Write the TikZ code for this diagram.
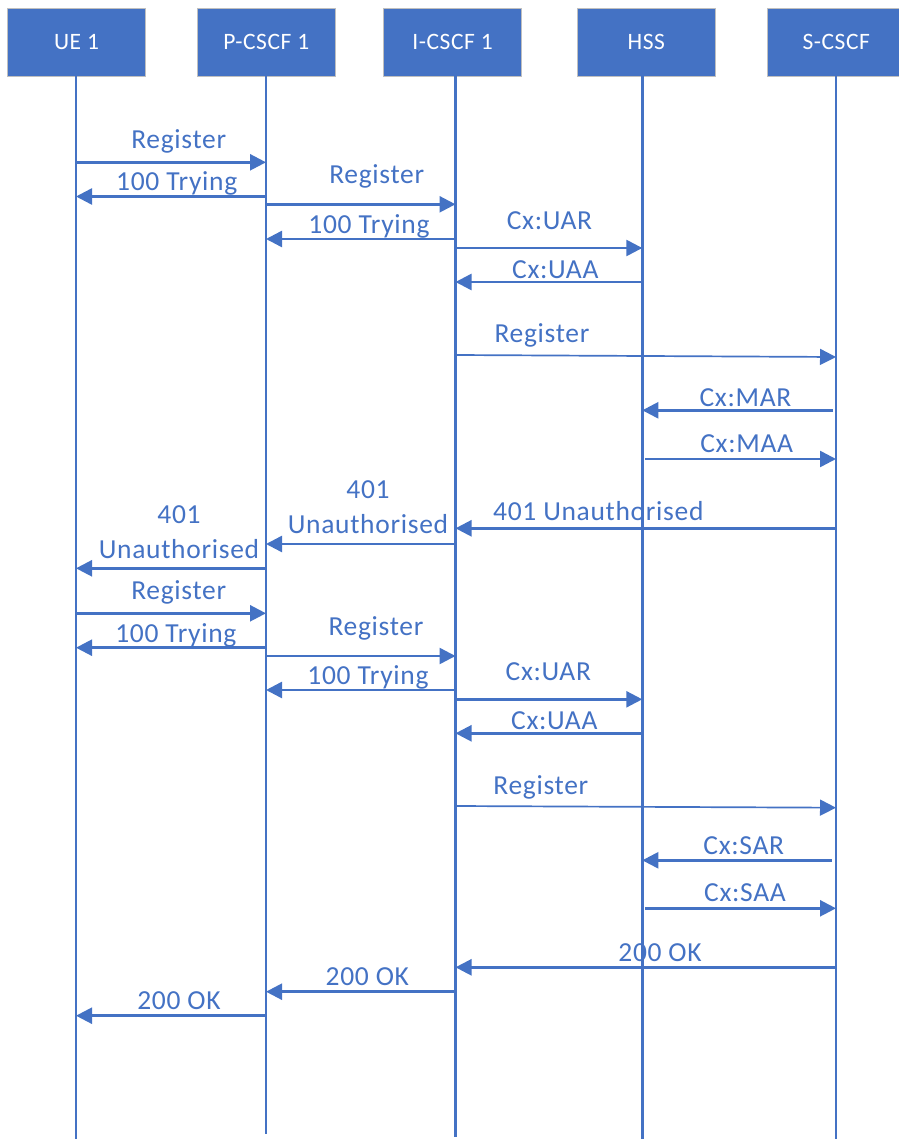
\documentclass[tikz,border=0pt]{standalone}
\usepackage{fontspec}
\setmainfont{Carlito}
\newfontfamily\lblfont[LetterSpace=2.5]{Carlito}
\usetikzlibrary{arrows.meta}
\definecolor{msblue}{HTML}{4472C4}
\definecolor{boxedge}{HTML}{BFBFBF}
\tikzset{
  actor/.style={draw=boxedge, line width=0.9pt, fill=msblue, minimum width=138pt, minimum height=68pt, inner sep=0pt, text=white, font=\lblfont\fontsize{23.5}{28}\selectfont},
  life/.style={draw=msblue, line width=2.9pt},
  msg/.style={draw=msblue, line width=2.5pt, -{Triangle[length=16pt,width=16pt]}},
  thinmsg/.style={draw=msblue, line width=1.7pt, -{Triangle[length=16pt,width=16pt]}},
  lbl/.style={text=msblue, inner sep=0pt, anchor=base, font=\lblfont\fontsize{27.5}{35}\selectfont},
  lbl2/.style={text=msblue, inner sep=0pt, anchor=south, align=center, font=\lblfont\fontsize{27.5}{35}\selectfont}
}
\begin{document}
\begin{tikzpicture}[x=1pt,y=-1pt]
\useasboundingbox (0,0) rectangle (898,1139);
% actors
\node[actor] (ue)  at (76.5,42.3)  {UE 1};
\node[actor] (pc)  at (266.3,42.3) {P-CSCF 1};
\node[actor] (ic)  at (452.6,42.3) {I-CSCF 1};
\node[actor] (hss) at (646.3,42.3) {HSS};
\node[actor] (sc)  at (836.3,42.3) {S-CSCF};
% lifelines
\coordinate (Lue) at (76,76.5);
\coordinate (Lpc) at (266,76.5);
\coordinate (Lic) at (455.5,76.5);
\coordinate (Lhss) at (642.3,76.5);
\coordinate (Lsc) at (836,76.5);
\coordinate (Eue) at (76,1139);
\coordinate (Epc) at (266,1134);
\coordinate (Eic) at (455.5,1137);
\coordinate (Ehss) at (642.3,1139);
\coordinate (Esc) at (836,1139);
\draw[life] (Lue) -- (Eue);
\draw[life] (Lpc) -- (Epc);
\draw[life] (Lic) -- (Eic);
\draw[life] (Lhss) -- (Ehss);
\draw[life] (Lsc) -- (Esc);
% first registration
\draw[msg] (Lue |- 0,162.3) -- (Lpc |- 0,162.3);
\node[lbl] (t1) at (178.7,148.3) {Register};
\draw[msg] (Lpc |- 0,196.5) -- (Lue |- 0,196.5);
\node[lbl] (t2) at (176.7,191) {100 Trying};
\draw[msg] (Lpc |- 0,204.3) -- (Lic |- 0,204.3);
\node[lbl] (t3) at (376.7,183.3) {Register};
\draw[msg] (Lic |- 0,239) -- (Lpc |- 0,239);
\node[lbl] (t4) at (369,233.3) {100 Trying};
\draw[msg] (Lic |- 0,248) -- (Lhss |- 0,248);
\node[lbl] (t5) at (549.5,229.3) {Cx:UAR};
\draw[msg] (Lhss |- 0,282) -- (Lic |- 0,282);
\node[lbl] (t6) at (555.3,278.3) {Cx:UAA};
\draw[thinmsg] (Lic |- 0,355) -- (Lsc |- 0,357);
\node[lbl] (t7) at (542,342.7) {Register};
\draw[msg] (833,410.3) -- (Lhss |- 0,410.3);
\node[lbl] (t8) at (745.5,406) {Cx:MAR};
\draw[msg] (645,459) -- (Lsc |- 0,459);
\node[lbl] (t9) at (746.7,452.3) {Cx:MAA};
\draw[msg] (Lsc |- 0,528.3) -- (Lic |- 0,528.3);
\node[lbl] (t10) at (598.3,520) {401 Unauthorised};
\draw[msg] (Lic |- 0,544) -- (Lpc |- 0,544);
\node[lbl2] (t11) at (368,533.8) {401\\Unauthorised};
\draw[msg] (Lpc |- 0,568.3) -- (Lue |- 0,568.3);
\node[lbl2] (t12) at (179,558.8) {401\\Unauthorised};
% second registration
\draw[msg] (Lue |- 0,613.3) -- (Lpc |- 0,613.3);
\node[lbl] (t13) at (178.7,599.3) {Register};
\draw[msg] (Lpc |- 0,647.7) -- (Lue |- 0,647.7);
\node[lbl] (t14) at (175.8,642.7) {100 Trying};
\draw[msg] (Lpc |- 0,656) -- (Lic |- 0,656);
\node[lbl] (t15) at (376,635) {Register};
\draw[msg] (Lic |- 0,690) -- (Lpc |- 0,690);
\node[lbl] (t16) at (368,684) {100 Trying};
\draw[msg] (Lic |- 0,699.3) -- (Lhss |- 0,699.3);
\node[lbl] (t17) at (548.3,680) {Cx:UAR};
\draw[msg] (Lhss |- 0,733.3) -- (Lic |- 0,733.3);
\node[lbl] (t18) at (554.3,729.3) {Cx:UAA};
\draw[thinmsg] (Lic |- 0,806) -- (Lsc |- 0,807.7);
\node[lbl] (t19) at (540.8,794) {Register};
\draw[msg] (831.7,860.3) -- (Lhss |- 0,860.3);
\node[lbl] (t20) at (743.8,854.3) {Cx:SAR};
\draw[msg] (645,908.3) -- (Lsc |- 0,908.3);
\node[lbl] (t21) at (745,901.7) {Cx:SAA};
\draw[msg] (Lsc |- 0,967.3) -- (Lic |- 0,967.3);
\node[lbl] (t22) at (660,961.7) {200 OK};
\draw[msg] (Lic |- 0,991.7) -- (Lpc |- 0,991.7);
\node[lbl] (t23) at (367.3,985) {200 OK};
\draw[msg] (Lpc |- 0,1015.7) -- (Lue |- 0,1015.7);
\node[lbl] (t24) at (179,1009.3) {200 OK};
\end{tikzpicture}
\end{document}
